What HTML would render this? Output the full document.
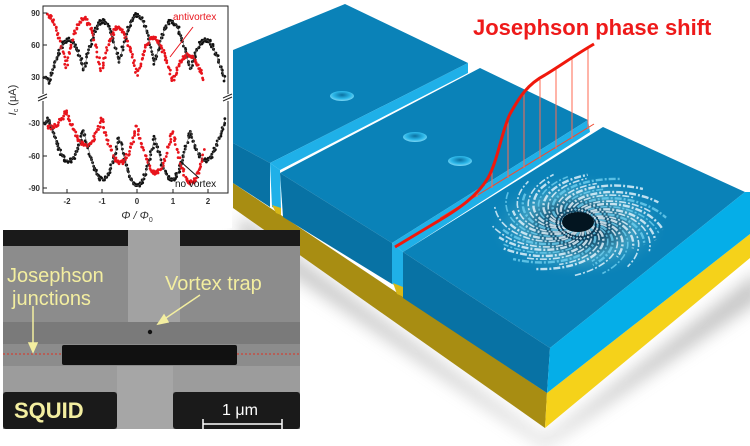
<!DOCTYPE html>
<html><head><meta charset="utf-8"><style>
html,body{margin:0;padding:0;background:#fff;}
svg{display:block}
text{font-family:"Liberation Sans",sans-serif}
</style></head><body>
<svg id="s" width="750" height="446" viewBox="0 0 750 446" xmlns="http://www.w3.org/2000/svg">
<defs>
<filter id="blur" x="-20%" y="-20%" width="140%" height="140%"><feGaussianBlur stdDeviation="8"/></filter>
<radialGradient id="hole" cx="50%" cy="40%" r="60%"><stop offset="0" stop-color="#0a6fa0"/><stop offset="0.6" stop-color="#2ab6e8"/><stop offset="1" stop-color="#7fd8f5"/></radialGradient>
<radialGradient id="sw" cx="50%" cy="50%" r="50%"><stop offset="0" stop-color="#02131f"/><stop offset="0.2" stop-color="#0a3550"/><stop offset="0.6" stop-color="#3a9cc0"/><stop offset="1" stop-color="#0a82b8" stop-opacity="0"/></radialGradient>
</defs>
<polygon points="240,215 545,440 760,270 760,300 545,446 240,240" fill="#999" opacity="0.55" filter="url(#blur)"/>
<polygon points="233,183 547,393 545,428 233,208" fill="#a88d12"/>
<polygon points="547,393 750,234 750,258 545,428" fill="#f5d21a"/>
<polygon points="233,50 345,4 468,63 270,163 233,143" fill="#0a82b8"/>
<polygon points="233,143 270,163 270,207 233,183" fill="#0872a4"/>
<polygon points="270,163 468,63 468,73 280,170" fill="#1fb0e8"/>
<polygon points="270,163 280,170 281,210 272,207" fill="#1fb0e8"/>
<polygon points="272,205 281,208 281,215 276,213" fill="#d8b818"/>
<polygon points="280,173 480,68 588,120 392,243" fill="#0a82b8"/>
<polygon points="280,173 392,243 392,284 283,217" fill="#0872a4"/>
<polygon points="392,243 588,120 590,132 403,252" fill="#1fb0e8"/>
<polygon points="392,243 403,252 403,288 392,284" fill="#1fb0e8"/>
<polygon points="393,283 403,287 404,297 397,294" fill="#d8b818"/>
<polygon points="403,252 603,127 745,192 550,348" fill="#0a82b8"/>
<polygon points="403,252 550,348 547,393 403,298" fill="#0872a4"/>
<polygon points="550,348 745,192 750,192 750,234 547,393" fill="#05aee8"/>
<ellipse cx="342" cy="96" rx="12" ry="5" fill="url(#hole)"/>
<ellipse cx="415" cy="137" rx="12" ry="5" fill="url(#hole)"/>
<ellipse cx="460" cy="161" rx="12" ry="5" fill="url(#hole)"/>
<g id="swirl">
<ellipse cx="578" cy="226" rx="92" ry="54" fill="url(#sw)"/>
</g>
<g stroke="#ff6a50" stroke-width="1" fill="none">
<line x1="440" y1="218" x2="594" y2="124" stroke="#f04a30"/>
<line x1="477" y1="197" x2="477" y2="193"/>
<line x1="492" y1="188" x2="492" y2="172"/>
<line x1="508" y1="178" x2="508" y2="120"/>
<line x1="524" y1="168" x2="524" y2="92"/>
<line x1="540" y1="159" x2="540" y2="80"/>
<line x1="556" y1="149" x2="556" y2="69"/>
<line x1="572" y1="139" x2="572" y2="59"/>
<line x1="588" y1="129" x2="588" y2="47"/>
</g>
<path d="M395,247 L440,220 C460,208 477,196 488,178 C498,160 502,130 510,114 C520,96 528,84 545,75 C560,66 575,55 594,44" stroke="#f0180c" stroke-width="3" fill="none"/>
<text x="473" y="35" font-size="22" font-weight="bold" fill="#ee1a1a">Josephson phase shift</text>

<rect x="0" y="0" width="232" height="228" fill="#fff"/>
<g id="plot"></g>
<rect x="43" y="6" width="185" height="187" fill="none" stroke="#222" stroke-width="1"/>
<g stroke="#222" stroke-width="1">
<line x1="43" y1="13" x2="47" y2="13"/><line x1="43" y1="45" x2="47" y2="45"/><line x1="43" y1="77" x2="47" y2="77"/>
<line x1="43" y1="123" x2="47" y2="123"/><line x1="43" y1="156" x2="47" y2="156"/><line x1="43" y1="188" x2="47" y2="188"/>
<line x1="67" y1="193" x2="67" y2="189"/><line x1="102" y1="193" x2="102" y2="189"/><line x1="137" y1="193" x2="137" y2="189"/><line x1="173" y1="193" x2="173" y2="189"/><line x1="208" y1="193" x2="208" y2="189"/>
</g>
<rect x="38" y="94" width="10" height="7" fill="#fff"/><rect x="223" y="94" width="10" height="7" fill="#fff"/>
<g stroke="#222" stroke-width="1"><line x1="38" y1="98" x2="47" y2="94"/><line x1="38" y1="101" x2="47" y2="97"/><line x1="223" y1="98" x2="232" y2="94"/><line x1="223" y1="101" x2="232" y2="97"/></g>
<g font-size="8" fill="#333" text-anchor="end" font-weight="bold">
<text x="40" y="16">90</text><text x="40" y="48">60</text><text x="40" y="80">30</text>
<text x="40" y="126">-30</text><text x="40" y="159">-60</text><text x="40" y="191">-90</text>
</g>
<g font-size="8" fill="#333" text-anchor="middle" font-weight="bold">
<text x="67" y="204">-2</text><text x="102" y="204">-1</text><text x="137" y="204">0</text><text x="173" y="204">1</text><text x="208" y="204">2</text>
</g>
<text x="137" y="219" font-size="11" font-style="italic" fill="#333" text-anchor="middle">Φ / Φ<tspan font-size="7" dy="3" font-style="normal">0</tspan></text>
<text transform="translate(16,100) rotate(-90)" font-size="11" fill="#333" text-anchor="middle"><tspan font-style="italic">I</tspan><tspan font-size="7" dy="2">c</tspan><tspan dy="-2"> (μA)</tspan></text>
<text x="173" y="20" font-size="10" fill="#e8141c">antivortex</text>
<line x1="193" y1="27" x2="170" y2="57" stroke="#e8141c" stroke-width="1"/>
<text x="175" y="187" font-size="10" fill="#111">no vortex</text>
<line x1="199" y1="178" x2="180" y2="161" stroke="#111" stroke-width="1"/>

<g>
<rect x="3" y="230" width="297" height="199" fill="#8c8c8c"/>
<rect x="3" y="322" width="297" height="22" fill="#7a7a7a"/>
<rect x="3" y="366" width="297" height="26" fill="#9c9c9c"/>
<rect x="128" y="230" width="52" height="92" fill="#a2a2a2"/>
<rect x="117" y="366" width="56" height="63" fill="#a6a6a6"/>
<rect x="3" y="230" width="125" height="16" fill="#1a1a1a"/>
<rect x="180" y="230" width="120" height="16" fill="#1a1a1a"/>
<rect x="3" y="392" width="114" height="37" fill="#1a1a1a" rx="3"/>
<rect x="173" y="392" width="127" height="37" fill="#1a1a1a" rx="3"/>
<rect x="62" y="345" width="175" height="20" fill="#111" rx="2"/>
<line x1="3" y1="354" x2="62" y2="354" stroke="#e03020" stroke-width="1" stroke-dasharray="2,2"/>
<line x1="237" y1="354" x2="300" y2="354" stroke="#e03020" stroke-width="1" stroke-dasharray="2,2"/>
<circle cx="150" cy="332" r="2.2" fill="#111"/>
<g fill="#f3eea0" font-size="20">
<text x="7" y="282">Josephson</text>
<text x="12" y="305">junctions</text>
<text x="165" y="290">Vortex trap</text>
</g>
<g stroke="#f3eea0" stroke-width="1.5" fill="#f3eea0">
<line x1="200" y1="295" x2="163" y2="320"/><polygon points="158,324 164,315 168,322"/>
<line x1="33" y1="306" x2="33" y2="345"/><polygon points="33,352 29,343 37,343"/>
</g>
<text x="14" y="418" font-size="22" font-weight="bold" fill="#f3eea0">SQUID</text>
<text x="222" y="415" font-size="16" fill="#fff">1 μm</text>
<g stroke="#fff" stroke-width="1.5"><line x1="203" y1="424" x2="282" y2="424"/><line x1="203" y1="419" x2="203" y2="429"/><line x1="282" y1="419" x2="282" y2="429"/></g>
</g>
</svg>
<script>
(function(){
var NS="http://www.w3.org/2000/svg";
var g=document.getElementById("plot");
function X(p){return 137+35.5*p;}
function YU(i){return 13+(90-i)*1.067;}
function YL(i){return 123+(-30-i)*1.083;}
var seed=7;function r(){seed=(seed*16807)%2147483647;return seed/2147483647-0.5;}
function dot(x,y,c){var e=document.createElementNS(NS,"circle");e.setAttribute("cx",x);e.setAttribute("cy",y);e.setAttribute("r",1.4);e.setAttribute("fill",c);g.appendChild(e);}
function line(pts,c){var e=document.createElementNS(NS,"polyline");e.setAttribute("points",pts.join(" "));e.setAttribute("fill","none");e.setAttribute("stroke",c);e.setAttribute("stroke-width","0.6");g.appendChild(e);}
var pb=[],pbl=[];
for(var p=-2.6;p<=2.5;p+=0.02){
 var env=88-6*p*p; var I=env*(0.5+0.5*Math.abs(Math.cos(Math.PI*p)));
 if(I<10)I=10;
 var x=X(p);
 pb.push(x+","+YU(I)); pbl.push(x+","+YL(-I));
 dot(x+r()*2,YU(I)+r()*4,"#111"); dot(x+r()*2,YL(-I)+r()*4,"#111");
}
for(var p=-2.5;p<=1.9;p+=0.02){
 var env2=76-9*(p+0.5)-(p>0.5?8*(p-0.5):0)-(p<-1.5?6*(-1.5-p):0);
 var I=env2*(0.45+0.55*Math.abs(Math.sin(Math.PI*p)));
 var x=X(p);
 dot(x+r()*2,YU(I)+r()*4,"#e8141c");
 var q=-p; var env3=76-9*(q+0.5)-(q>0.5?8*(q-0.5):0)-(q<-1.5?6*(-1.5-q):0);
 var J=env3*(0.45+0.55*Math.abs(Math.sin(Math.PI*q)));
 dot(x+r()*2,YL(-J)+r()*4,"#e8141c");
}
line(pb,"#555");line(pbl,"#555");
var sw=document.getElementById("swirl");
var cx=578,cy=224;
for(var k=0;k<40;k++){
 var a0=k*2*Math.PI/40; var d="";
 var len=0.7+0.3*Math.abs(Math.sin(k*1.7));
 for(var t=0;t<=len;t+=0.04){
  var rad=10+82*t; var a=a0+2.0*t;
  var x=cx+rad*Math.cos(a), y=cy+rad*0.58*Math.sin(a);
  d+=(t==0?"M":"L")+x.toFixed(1)+","+y.toFixed(1);
 }
 var e=document.createElementNS(NS,"path");e.setAttribute("d",d);e.setAttribute("fill","none");
 e.setAttribute("stroke",k%3?"#eaf8ff":"#6fd0f0");e.setAttribute("stroke-width",k%2?"2.4":"1.6");
 e.setAttribute("stroke-dasharray","7,2,2,2");e.setAttribute("opacity","0.8");sw.appendChild(e);
}
var c=document.createElementNS(NS,"ellipse");c.setAttribute("cx",cx);c.setAttribute("cy",cy-2);c.setAttribute("rx",16);c.setAttribute("ry",10);c.setAttribute("fill","#031520");sw.appendChild(c);
})();
</script>
</body></html>
